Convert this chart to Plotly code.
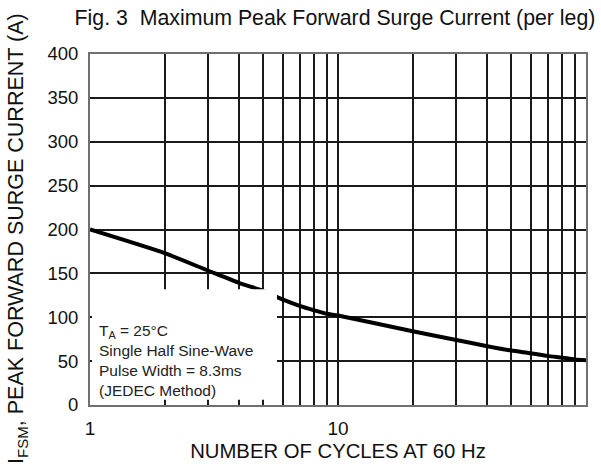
import plotly.graph_objects as go

# Data
cycles = [1, 2, 3, 4, 5, 6, 7, 8, 9, 10, 20, 30, 40, 50, 60, 70, 80, 90, 100]
surge_current = [200, 173, 153, 139, 130, 120, 113, 108, 104, 102, 84, 74, 67, 62, 59, 56, 54, 52, 51]

x_tick_vals = [1, 10, 100]
x_tick_text = ["1", "10", "100"]
x_minor_grid = [2, 3, 4, 5, 6, 7, 8, 9, 20, 30, 40, 50, 60, 70, 80, 90]
y_tick_vals = [0, 50, 100, 150, 200, 250, 300, 350, 400]

FONT = "Liberation Sans, Arial, sans-serif"

fig = go.Figure()
fig.add_trace(go.Scatter(
    x=cycles, y=surge_current, mode="lines",
    line=dict(color="black", width=4, shape="spline", smoothing=0.6),
    showlegend=False, hoverinfo="skip",
))

# white note box (covers grid and curve in lower-left corner)
fig.add_shape(type="rect", xref="paper", yref="y",
              x0=0.004, x1=0.377, y0=6, y1=132,
              fillcolor="white", line=dict(width=0), layer="above")

fig.add_annotation(
    xref="paper", yref="paper", x=0.014, y=0.01,
    xanchor="left", yanchor="bottom", align="left", showarrow=False,
    text="T<sub>A</sub> = 25°C<br>Single Half Sine-Wave<br>Pulse Width = 8.3ms<br>(JEDEC Method)",
    font=dict(family=FONT, size=15.5, color="#222222"),
)

# y-axis title (placed as rotated text, positioned like the reference)
fig.add_annotation(
    xref="paper", yref="paper", x=(17 - 90) / 496, y=(405 - 239) / 351,
    xanchor="center", yanchor="middle", showarrow=False, textangle=-90,
    text="I<sub>FSM</sub>, PEAK FORWARD SURGE CURRENT (A)",
    font=dict(family=FONT, size=21.5, color="#111111"),
)

fig.update_layout(
    width=601, height=464,
    margin=dict(l=90, r=15, t=54, b=59),
    paper_bgcolor="white", plot_bgcolor="white",
    font=dict(family=FONT, color="#111111"),
    title=dict(
        text="Fig. 3\u00a0\u00a0Maximum Peak Forward Surge Current (per leg)",
        x=335 / 601, xanchor="center", xref="container",
        y=1 - 18 / 464, yanchor="middle", yref="container",
        font=dict(family=FONT, size=21.3, color="#111111"),
    ),
)

fig.update_xaxes(
    type="log", range=[0, 2], automargin=False,
    tickvals=x_tick_vals, ticktext=x_tick_text,
    showgrid=True, gridcolor="#1a1a1a", gridwidth=2,
    minor=dict(tickvals=x_minor_grid, showgrid=True, gridcolor="#1a1a1a", gridwidth=2, ticks=""),
    showline=True, linecolor="#707070", linewidth=2, mirror=True,
    ticks="", ticklabelstandoff=5,
    tickfont=dict(family=FONT, size=19, color="#111111"),
    title=dict(text="NUMBER OF CYCLES AT 60 Hz", standoff=6,
               font=dict(family=FONT, size=20.3, color="#111111")),
    zeroline=False,
)
fig.update_yaxes(
    range=[0, 400], tickvals=y_tick_vals, automargin=False,
    showgrid=True, gridcolor="#1a1a1a", gridwidth=2,
    showline=True, linecolor="#707070", linewidth=2, mirror=True,
    ticks="", ticklabelstandoff=6,
    tickfont=dict(family=FONT, size=18.5, color="#111111"),
    zeroline=False,
)

fig.write_html("out.html", config={"displayModeBar": False},
               post_script="document.body.style.margin='0';")
